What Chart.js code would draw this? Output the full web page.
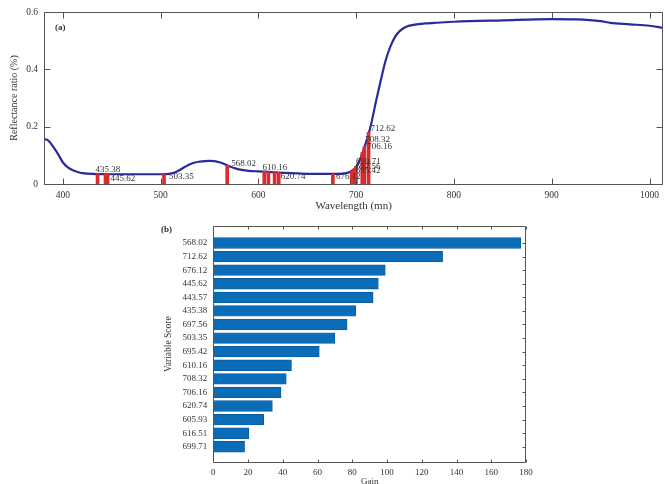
<!DOCTYPE html>
<html><head><meta charset="utf-8">
<script src="https://cdn.jsdelivr.net/npm/chart.js@4.4.1/dist/chart.umd.min.js"></script>
<style>
html,body{margin:0;padding:0;background:#fff;overflow:hidden;width:665px;height:484px;position:relative;}
#c1{position:absolute;left:0;top:0;}
#c2{position:absolute;left:140px;top:215px;}
</style></head><body>
<canvas id="c1" width="665" height="215"></canvas>
<canvas id="c2" width="400" height="280"></canvas>
<script>
// ---- Panel (a): reflectance spectrum ----
const wavelength = [380,383,386,390,395,400,405,410,415,420,430,450,480,500,510,515,520,525,530,535,540,545,550,555,560,565,570,575,580,590,600,610,620,640,660,680,690,695,700,705,710,715,720,725,730,735,740,745,750,760,770,780,800,850,900,925,950,960,980,1000,1014];
const reflectance = [0.156,0.155,0.148,0.130,0.104,0.075,0.058,0.048,0.042,0.038,0.035,0.034,0.034,0.034,0.036,0.041,0.050,0.060,0.069,0.075,0.078,0.080,0.081,0.080,0.076,0.070,0.062,0.056,0.051,0.046,0.044,0.042,0.040,0.037,0.035,0.035,0.038,0.045,0.060,0.095,0.145,0.205,0.285,0.360,0.430,0.480,0.515,0.535,0.547,0.556,0.560,0.562,0.566,0.571,0.575,0.574,0.568,0.562,0.557,0.552,0.545];
const selectedBands = [435.38,443.57,445.62,503.35,568.02,605.93,610.16,616.51,620.74,676.12,695.42,697.56,699.71,706.16,708.32,712.62];
const selectedHeights = [0.036,0.035,0.035,0.034,0.065,0.044,0.043,0.041,0.040,0.035,0.045,0.052,0.062,0.110,0.130,0.180];
const labeledBands = ['435.38','445.62','503.35','568.02','610.16','620.74','676.12','695.42','697.56','699.71','706.16','708.32','712.62'];
const xTicksA = [400,500,600,700,800,900,1000];
const yTicksA = [0,0.2,0.4,0.6];

// ---- Panel (b): variable importance ----
const scoreLabels = ['568.02','712.62','676.12','445.62','443.57','435.38','697.56','503.35','695.42','610.16','708.32','706.16','620.74','605.93','616.51','699.71'];
const gainValues = [177,132,99,95,92,82,77,70,61,45,42,39,34,29,20.5,18];
const xTicksB = [0,20,40,60,80,100,120,140,160,180];

const SERIF = "'Liberation Serif','DejaVu Serif',serif";
const TEXT = '#333';
const AXIS = '#555';

// pixel nudges for the band annotations (layout only)
const labelNudge = {
  '435.38': [-2, -4], '445.62': [3, 5], '503.35': [5, 2], '568.02': [4, -2],
  '610.16': [-6, -4], '620.74': [2, 4], '676.12': [3, 3], '695.42': [4, 0],
  '697.56': [2, -2], '699.71': [0, -5], '706.16': [5, -6], '708.32': [1, -7],
  '712.62': [2, -4]
};

function framePlugin(tickLen, panelLabel, labelPos, extra) {
  return {
    id: 'frame',
    afterDatasetsDraw(chart) {
      const {ctx, chartArea: a, scales: {x, y}} = chart;
      ctx.save();
      ctx.strokeStyle = AXIS; ctx.lineWidth = 1;
      const L = Math.round(a.left) + 0.5, R = Math.round(a.right) - 0.5;
      const T = Math.round(a.top) + 0.5, B = Math.round(a.bottom) + 0.5;
      ctx.beginPath();
      ctx.rect(L, T, R - L, B - T);
      x.ticks.forEach(t => {
        const p = Math.round(x.getPixelForValue(t.value)) + 0.5;
        ctx.moveTo(p, B); ctx.lineTo(p, B - tickLen);
        ctx.moveTo(p, T); ctx.lineTo(p, T + tickLen);
      });
      y.ticks.forEach(t => {
        const p = Math.round(y.getPixelForValue(t.value)) + 0.5;
        ctx.moveTo(L, p); ctx.lineTo(L + tickLen, p);
        ctx.moveTo(R, p); ctx.lineTo(R - tickLen, p);
      });
      ctx.stroke();
      ctx.fillStyle = TEXT;
      ctx.font = 'bold 9px ' + SERIF;
      ctx.textAlign = 'left'; ctx.textBaseline = 'middle';
      ctx.fillText(panelLabel, labelPos[0], labelPos[1]);
      if (extra) extra(chart, ctx);
      ctx.restore();
    }
  };
}

new Chart(document.getElementById('c1'), {
  type: 'line',
  data: {
    datasets: [
      {
        type: 'bar',
        data: selectedBands.map((w, i) => ({x: w, y: selectedHeights[i]})),
        backgroundColor: '#dd2a2a',
        barThickness: 3,
        order: 0
      },
      {
        type: 'line',
        data: wavelength.map((w, i) => ({x: w, y: reflectance[i]})),
        borderColor: '#2a2a9c',
        borderWidth: 2.2,
        pointRadius: 0,
        cubicInterpolationMode: 'monotone',
        fill: false,
        order: 1
      }
    ]
  },
  options: {
    responsive: false, animation: false, devicePixelRatio: 1,
    layout: {padding: {top: 12, right: 0, left: 0, bottom: 0}},
    plugins: {legend: {display: false}, tooltip: {enabled: false}},
    scales: {
      x: {
        type: 'linear', min: 380.6, max: 1014, offset: false,
        grid: {display: false, drawTicks: false}, border: {display: false},
        afterBuildTicks: s => { s.ticks = xTicksA.map(v => ({value: v})); },
        afterFit: s => { s.height = 31; },
        ticks: {font: {family: SERIF, size: 9.5}, color: TEXT, padding: 6, maxRotation: 0, includeBounds: false, callback: v => String(v)},
        title: {display: true, text: 'Wavelength (mn)', font: {family: SERIF, size: 11}, color: TEXT, padding: {top: 0, bottom: 2}}
      },
      y: {
        type: 'linear', min: 0, max: 0.6,
        grid: {display: false, drawTicks: false}, border: {display: false},
        afterBuildTicks: s => { s.ticks = yTicksA.map(v => ({value: v})); },
        afterFit: s => { s.width = 44; },
        ticks: {font: {family: SERIF, size: 9.5}, color: TEXT, padding: 6, callback: v => String(v)},
        title: {display: true, text: 'Reflectance ratio (%)', font: {family: SERIF, size: 10}, color: TEXT, padding: {top: 8, bottom: 0}}
      }
    }
  },
  plugins: [framePlugin(6, '(a)', [55, 28], (chart, ctx) => {
    const {x, y} = chart.scales;
    ctx.font = '9px ' + SERIF;
    ctx.fillStyle = TEXT;
    labeledBands.forEach(lbl => {
      const i = selectedBands.indexOf(parseFloat(lbl));
      const px = x.getPixelForValue(selectedBands[i]);
      const py = y.getPixelForValue(selectedHeights[i]);
      const n = labelNudge[lbl] || [3, -2];
      ctx.fillText(lbl, px + n[0], py + n[1]);
    });
  })]
});

new Chart(document.getElementById('c2'), {
  type: 'bar',
  data: {
    datasets: [{
      data: gainValues.map((g, i) => ({x: g, y: i + 1})),
      backgroundColor: '#0b6cb8',
      borderColor: '#0a5a9a',
      borderWidth: 0.8,
      barThickness: 10.7
    }]
  },
  options: {
    indexAxis: 'y',
    responsive: false, animation: false, devicePixelRatio: 1,
    layout: {padding: {top: 9.3, right: 14, left: 0, bottom: 0}},
    plugins: {legend: {display: false}, tooltip: {enabled: false}},
    scales: {
      x: {
        type: 'linear', min: 0, max: 180, offset: false,
        grid: {display: false, drawTicks: false}, border: {display: false},
        afterBuildTicks: s => { s.ticks = xTicksB.map(v => ({value: v})); },
        afterFit: s => { s.height = 33; },
        ticks: {font: {family: SERIF, size: 9}, color: TEXT, padding: 5, maxRotation: 0},
        title: {display: true, text: 'Gain', font: {family: SERIF, size: 9}, color: TEXT, padding: {top: 0, bottom: 8}}
      },
      y: {
        type: 'linear', min: -0.22, max: 17.12, reverse: true, offset: false,
        grid: {display: false, drawTicks: false}, border: {display: false},
        afterBuildTicks: s => { s.ticks = scoreLabels.map((_, i) => ({value: i + 1})); },
        afterFit: s => { s.width = 73.3; },
        ticks: {font: {family: SERIF, size: 9}, color: TEXT, padding: 6, callback: v => scoreLabels[v - 1] ?? ''},
        title: {display: true, text: 'Variable Score', font: {family: SERIF, size: 9.5}, color: TEXT, padding: {top: 23, bottom: 0}}
      }
    }
  },
  plugins: [framePlugin(3, '(b)', [21, 15])]
});
</script>
</body></html>
